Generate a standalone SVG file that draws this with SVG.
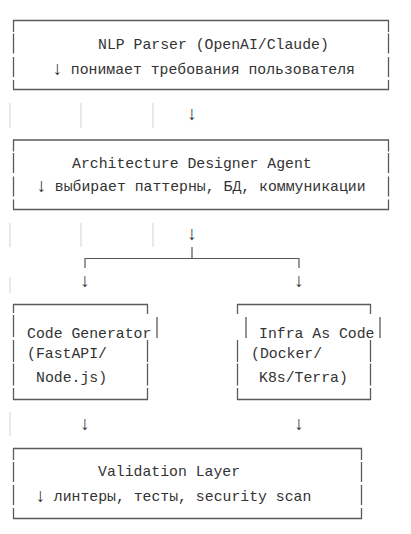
<svg xmlns="http://www.w3.org/2000/svg" width="411" height="534" viewBox="0 0 411 534">
<style>
text{font-family:"Liberation Mono","DejaVu Sans Mono",monospace;font-size:14.8px;fill:#333}
text.a{font-family:"Liberation Sans","DejaVu Sans",sans-serif;font-size:19px;fill:#333;text-anchor:middle}
.b{stroke:#5a5a5a;stroke-width:1.3;fill:none}
.s{stroke:#d4d4d4;stroke-width:1;fill:none}
.c{stroke:#555;stroke-width:1.2;fill:none}
</style>
<rect width="411" height="534" fill="#fff"/>
<g id="nlp-parser">
<path class="b" d="M13,20.5H389M13,89.5H389M13.5,20V32M13.5,33.5V53.5M13.5,57V77M13.5,80V90M388.5,20V32M388.5,33.5V53.5M388.5,57V77M388.5,80V90"/>
<text x="98" y="49">NLP Parser (OpenAI/Claude)</text>
<text class="a" x="57.5" y="75">↓</text>
<text x="70.8" y="74">понимает требования пользователя</text>
</g>
<g id="architecture-designer">
<path class="b" d="M13,140H389M13,209.5H389M13.5,139.5V151.5M13.5,153V173M13.5,176.5V196.5M13.5,199.5V210M388.5,139.5V151.5M388.5,153V173M388.5,176.5V196.5M388.5,199.5V210"/>
<text x="72" y="168">Architecture Designer Agent</text>
<text class="a" x="41.5" y="192">↓</text>
<text x="54.8" y="191">выбирает паттерны, БД, коммуникации</text>
</g>
<g id="code-generator">
<path class="b" d="M13,304.5H148M13,399.5H148M13.5,304V313M13.5,315V337M13.5,340V362M13.5,363.5V385.5M13.5,388V400M147.5,304V314M157,317V338M147.5,340V362M147.5,363.5V385.5M147.5,388V400"/>
<text x="27" y="338">Code Generator</text>
<text x="27" y="358">(FastAPI/</text>
<text x="36" y="382">Node.js)</text>
</g>
<g id="infra-as-code">
<path class="b" d="M237,304.5H371M237,399.5H371M237.5,304V314M246,317V338M237.5,340V362M237.5,363.5V385.5M237.5,388V400M370.5,304V314M380,317V338M370.5,340V362M370.5,363.5V385.5M370.5,388V400"/>
<text x="259" y="338">Infra As Code</text>
<text x="251" y="358">(Docker/</text>
<text x="259" y="382">K8s/Terra)</text>
</g>
<g id="validation-layer">
<path class="b" d="M13,448.5H362M13,518.5H362M13.5,448V460M13.5,462V482M13.5,485V505M13.5,508V519M361.5,448V460M361.5,462V482M361.5,485V505M361.5,508V519"/>
<text x="98" y="476">Validation Layer</text>
<text class="a" x="40.5" y="502">↓</text>
<text x="53.8" y="501">линтеры, тесты, security scan</text>
</g>
<g id="connectors">
<path class="s" d="M10,103V128M81,103V128M153,103V128M10,223V247M81,223V247M153,223V247M10,277V293M10,412V436"/>
<text class="a" x="192" y="120">↓</text>
<text class="a" x="192" y="240">↓</text>
<path class="c" d="M192,247V258M85,258.5H299M85,258V268M299,258V268"/>
<text class="a" x="85" y="287">↓</text>
<text class="a" x="299" y="287">↓</text>
<text class="a" x="85" y="430">↓</text>
<text class="a" x="299" y="430">↓</text>
</g>
</svg>
